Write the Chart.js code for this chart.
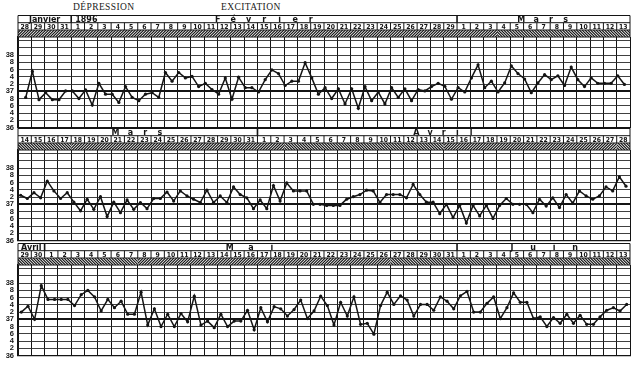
<!DOCTYPE html>
<html>
<head>
<meta charset="utf-8">
<script src="https://cdn.jsdelivr.net/npm/chart.js@4.4.1/dist/chart.umd.min.js"></script>
<style>
  html, body { margin: 0; padding: 0; background: #fff; }
  #wrap { position: relative; width: 634px; height: 367px; overflow: hidden; }
  .strip { position: absolute; left: 0; width: 634px; height: 126px; }
  .title { position: absolute; top: 2px; font: 9.5px/10px 'Liberation Serif', 'DejaVu Serif', serif; color: #1a1a1a; letter-spacing: 0.4px; }
</style>
</head>
<body>
<div id="wrap">
  <div class="title" style="left:73px">DÉPRESSION</div>
  <div class="title" style="left:221px">EXCITATION</div>
  <div class="strip" style="top:10px"><canvas id="strip1"></canvas></div>
  <div class="strip" style="top:123px"><canvas id="strip2"></canvas></div>
  <div class="strip" style="top:238px"><canvas id="strip3"></canvas></div>
</div>
<script>
// ---- Temperature chart, 28 Jan – 13 Jun 1896 (two readings per day) ----

// day numbers of the 46 columns of each strip
const days1 = [28, 29, 30, 31, 1, 2, 3, 4, 5, 6, 7, 8, 9, 10, 11, 12, 13, 14, 15, 16, 17, 18, 19, 20, 21, 22, 23, 24, 25, 26, 27, 28, 29,
  1, 2, 3, 4, 5, 6, 7, 8, 9, 10, 11, 12, 13];
const days2 = [14, 15, 16, 17, 18, 19, 20, 21, 22, 23, 24, 25, 26, 27, 28, 29, 30, 31,
  1, 2, 3, 4, 5, 6, 7, 8, 9, 10, 11, 12, 13, 14, 15, 16, 17, 18, 19, 20, 21, 22, 23, 24, 25, 26, 27, 28];
const days3 = [29, 30, 1, 2, 3, 4, 5, 6, 7, 8, 9, 10, 11, 12, 13, 14, 15, 16, 17, 18, 19, 20, 21, 22, 23, 24, 25, 26, 27, 28, 29, 30, 31,
  1, 2, 3, 4, 5, 6, 7, 8, 9, 10, 11, 12, 13];

// month cells: [label, first column, end column]
const months1 = [['Janvier', 0, 4], ['Février', 4, 33], ['Mars', 33, 46]];
const months2 = [['Mars', 0, 18], ['Avril', 18, 46]];
const months3 = [['Avril', 0, 2], ['Mai', 2, 33], ['Juin', 33, 46]];
const yearLabel = '1896';

// hatched band: [first column, end column, direction]
const hatch1 = [[0, 36, '/'], [36, 46, '\\']];
const hatch2 = [[0, 4, '\\'], [4, 20, '/'], [20, 32, '\\'], [32, 45, '/'], [45, 46, '\\']];
const hatch3 = [[0, 9, '\\'], [9, 28, '/'], [28, 46, '\\']];

// temperature axis
const tempTicks = [36, 36.2, 36.4, 36.6, 36.8, 37, 37.2, 37.4, 37.6, 37.8, 38, 38.2, 38.4];
const tempLabels = ['36', '2', '4', '6', '8', '37', '2', '4', '6', '8', '38', '', ''];

// readings (°C), morning / evening
const temps1 = [36.83, 37.55, 36.77, 36.96, 36.77, 36.77, 37.01, 37.01, 36.80, 37.04,
  36.62, 37.22, 36.92, 36.92, 36.69, 37.13, 36.83, 36.74, 36.92, 36.96,
  36.83, 37.52, 37.28, 37.52, 37.37, 37.41, 37.13, 37.22, 37.05, 36.92,
  37.37, 36.78, 37.39, 37.10, 37.10, 36.98, 37.32, 37.59, 37.49, 37.16,
  37.28, 37.28, 37.79, 37.37, 36.92,
  37.10, 36.80, 37.07, 36.65, 37.07, 36.53, 37.13, 36.74, 36.98, 36.65,
  37.10, 36.83, 37.07, 36.74, 37.05, 37.01, 37.13, 37.22, 37.14, 36.78,
  37.10, 36.98, 37.37, 37.73, 37.10, 37.28, 36.98, 37.23, 37.70, 37.49,
  37.34, 36.96, 37.23, 37.46, 37.32, 37.43, 37.16, 37.67, 37.32, 37.13,
  37.37, 37.22, 37.22, 37.22, 37.43, 37.19];
const temps2 = [37.25, 37.16, 37.32, 37.18, 37.64, 37.37, 37.16, 37.32, 37.06, 36.82,
  37.14, 36.86, 37.21, 36.66, 37.06, 36.77, 37.12, 36.86, 37.05, 36.88,
  37.16, 37.16, 37.34, 37.09, 37.37, 37.23, 37.14, 37.05, 37.39, 37.05,
  37.23, 37.05, 37.48, 37.27, 37.18, 36.88, 37.12, 36.88, 37.52, 37.09,
  37.59, 37.37, 37.37, 37.37, 37.00, 37.00,
  36.97, 36.97, 36.97, 37.14, 37.21, 37.27, 37.39, 37.37, 37.05, 37.27,
  37.27, 37.27, 37.18, 37.55, 37.27, 37.06, 37.06, 36.74, 37.00, 36.63,
  36.97, 36.48, 36.97, 36.68, 36.97, 36.61, 36.97, 37.16, 37.00, 37.00,
  37.00, 36.77, 37.14, 36.95, 37.18, 36.91, 37.27, 37.03, 37.37, 37.23,
  37.14, 37.23, 37.48, 37.37, 37.76, 37.50];
const temps3 = [37.20, 37.36, 37.00, 37.93, 37.55, 37.55, 37.55, 37.55, 37.38, 37.68,
  37.80, 37.62, 37.23, 37.55, 37.32, 37.50, 37.14, 37.14, 37.75, 36.84,
  37.29, 36.80, 37.14, 36.80, 37.16, 36.93, 37.64, 36.84, 36.95, 36.77,
  37.14, 36.80, 36.95, 36.95, 37.25, 36.71, 37.32, 36.93, 37.35, 37.29,
  37.09, 37.27, 37.53, 37.02, 37.23, 37.64,
  37.38, 36.84, 37.47, 37.09, 37.62, 36.86, 36.89, 36.59, 37.38, 37.75,
  37.41, 37.65, 37.53, 37.09, 37.41, 37.41, 37.25, 37.62, 37.50, 37.29,
  37.65, 37.77, 37.20, 37.20, 37.44, 37.62, 37.02, 37.32, 37.73, 37.47,
  37.47, 37.02, 37.07, 36.80, 37.05, 36.89, 37.14, 36.89, 37.11, 36.86,
  36.86, 37.07, 37.25, 37.32, 37.23, 37.41];

// ---- drawing ----
const INK = '#141414';
const letterPitch = { 'Février': 15.5, 'Mars': 14.8, 'Avril': 13.7, 'Mai': 21, 'Juin': 21 };

const headerPlugin = {
  id: 'stripHeader',
  afterDraw(chart, args, o) {
    const { ctx, chartArea: a, scales: { x } } = chart;
    const px = v => x.getPixelForValue(v);
    const top = a.top - 21.5, mb = top + 7.2, db = mb + 7.3, hb = a.top;

    ctx.save();
    // hatched band
    o.hatch.forEach(([from, to, dir]) => {
      const x0 = px(from), x1 = px(to), h = hb - db;
      ctx.save();
      ctx.beginPath(); ctx.rect(x0, db, x1 - x0, h); ctx.clip();
      ctx.strokeStyle = INK; ctx.lineWidth = 1.1;
      ctx.beginPath();
      for (let s = x0 - h - 3; s < x1 + 3; s += 2.8) {
        if (dir === '/') { ctx.moveTo(s, hb); ctx.lineTo(s + h, db); }
        else { ctx.moveTo(s, db); ctx.lineTo(s + h, hb); }
      }
      ctx.stroke();
      ctx.restore();
    });

    // frame
    ctx.strokeStyle = INK; ctx.lineWidth = 1;
    ctx.beginPath();
    [top, mb, db, hb].forEach(y => { ctx.moveTo(a.left, y); ctx.lineTo(a.right, y); });
    ctx.moveTo(a.left, top); ctx.lineTo(a.left, hb);
    ctx.moveTo(a.right, top); ctx.lineTo(a.right, hb);
    for (let i = 1; i < o.days.length; i++) { ctx.moveTo(px(i), mb); ctx.lineTo(px(i), db); }
    ctx.stroke();

    ctx.lineWidth = 1.6;
    ctx.beginPath();
    o.months.forEach(([, from]) => { if (from > 0) { ctx.moveTo(px(from), top); ctx.lineTo(px(from), mb); } });
    ctx.stroke();

    // day numbers
    ctx.fillStyle = INK;
    ctx.textAlign = 'center'; ctx.textBaseline = 'middle';
    ctx.font = 'bold 6.8px "DejaVu Sans Condensed", "DejaVu Sans", sans-serif';
    o.days.forEach((d, i) => ctx.fillText(String(d), px(i + 0.5), (mb + db) / 2 + 0.5));

    // month names
    ctx.font = 'bold 8px "DejaVu Sans", sans-serif';
    const my = (top + mb) / 2 + 0.5;
    o.months.forEach(([label, from, to]) => {
      const cx = (px(from) + px(to)) / 2;
      const pitch = letterPitch[label];
      if (pitch && to - from > 6) {
        const chars = [...label];
        chars.forEach((ch, i) => ctx.fillText(ch, cx + (i - (chars.length - 1) / 2) * pitch, my));
      } else {
        ctx.fillText(label, cx, my);
      }
    });
    if (o.year) {
      ctx.textAlign = 'left';
      ctx.fillText(o.year, px(o.months[1][1]) + 4, my);
    }
    ctx.restore();
  }
};

function makeStrip(id, temps, offset, days, months, hatch, year) {
  const colTicks = days.map((d, i) => ({ value: i })).concat([{ value: days.length }]);
  new Chart(document.getElementById(id), {
    type: 'line',
    data: {
      datasets: [{
        data: temps.map((t, k) => ({ x: offset + k * 0.5, y: t })),
        borderColor: INK, borderWidth: 1.5,
        pointRadius: 1.6, pointBackgroundColor: INK, pointBorderWidth: 0,
        tension: 0, fill: false
      }]
    },
    options: {
      responsive: true, maintainAspectRatio: false, animation: false,
      layout: { padding: { top: 27, bottom: 7, left: 0, right: 3 } },
      plugins: {
        legend: { display: false }, tooltip: { enabled: false },
        stripHeader: { days, months, hatch, year }
      },
      scales: {
        x: {
          type: 'linear', min: 0, max: days.length,
          afterBuildTicks: s => { s.ticks = colTicks; },
          afterFit: s => { s.height = 0; },
          ticks: { display: false },
          grid: { color: INK, lineWidth: 1, drawTicks: false },
          border: { color: INK, width: 1.2 }
        },
        y: {
          min: 36, max: 38.5,
          afterBuildTicks: s => { s.ticks = tempTicks.map(v => ({ value: v })); },
          afterFit: s => { s.width = 18; },
          ticks: {
            autoSkip: false, padding: 4, color: INK,
            font: { family: '"Liberation Sans", Arial, sans-serif', size: 7.5, weight: 'bold' },
            callback: (v, i) => tempLabels[i]
          },
          grid: {
            drawTicks: false,
            color: c => (c.tick && c.tick.value === 37) ? INK : '#2a2a2a',
            lineWidth: c => (c.tick && c.tick.value === 37) ? 2 : 0.9
          },
          border: { color: INK, width: 1.2 }
        }
      }
    },
    plugins: [headerPlugin]
  });
}

makeStrip('strip1', temps1, 0.58, days1, months1, hatch1, yearLabel);
makeStrip('strip2', temps2, 0.2, days2, months2, hatch2, null);
makeStrip('strip3', temps3, 0.25, days3, months3, hatch3, null);
</script>
</body>
</html>
